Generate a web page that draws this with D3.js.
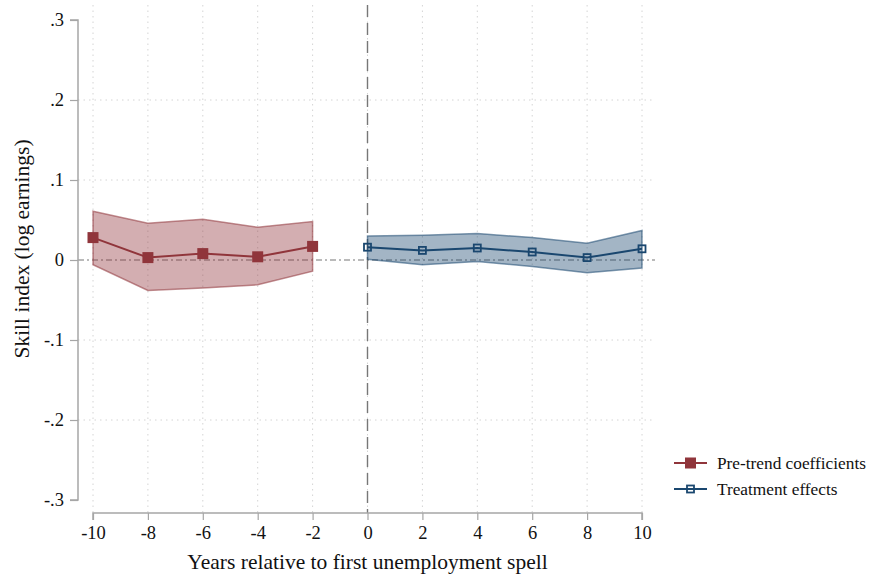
<!DOCTYPE html>
<html>
<head>
<meta charset="utf-8">
<script src="https://cdn.jsdelivr.net/npm/d3@7/dist/d3.min.js"></script>
<style>
  html, body { margin: 0; padding: 0; background: #fff; }
  svg { display: block; }
  svg text { font-family: "Liberation Serif", "Times New Roman", serif; }
</style>
</head>
<body>
<svg id="chart" width="870" height="579"></svg>
<script>
// Event-study estimates: skill index (log earnings) by year relative to first unemployment spell
const preYears   = [-10, -8, -6, -4, -2];
const preCoef    = [0.028, 0.003, 0.008, 0.004, 0.017];
const preUpper   = [0.061, 0.046, 0.051, 0.041, 0.048];
const preLower   = [-0.006, -0.038, -0.035, -0.031, -0.014];

const postYears  = [0, 2, 4, 6, 8, 10];
const postCoef   = [0.016, 0.012, 0.015, 0.010, 0.003, 0.014];
const postUpper  = [0.030, 0.031, 0.033, 0.028, 0.021, 0.037];
const postLower  = [0.001, -0.006, -0.002, -0.008, -0.016, -0.010];

const xTicks = [-10, -8, -6, -4, -2, 0, 2, 4, 6, 8, 10];
const xTickLabels = ["-10", "-8", "-6", "-4", "-2", "0", "2", "4", "6", "8", "10"];
const yTicks = [0.3, 0.2, 0.1, 0, -0.1, -0.2, -0.3];
const yTickLabels = [".3", ".2", ".1", "0", "-.1", "-.2", "-.3"];
const legendLabels = ["Pre-trend coefficients", "Treatment effects"];

const maroon = "#90353b", navy = "#1a476f";
const axisGrey = "#a6a6a6";

const svg = d3.select("#chart");
const plot = { left: 78, right: 655, top: 5, bottom: 513 };

const x = d3.scaleLinear().domain([-10, 10]).range([93, 642]);
const y = d3.scaleLinear().domain([-0.3, 0.3]).range([500, 20]);

// grid
const grid = svg.append("g");
grid.selectAll("line.v").data(xTicks).join("line")
  .attr("x1", d => x(d)).attr("x2", d => x(d))
  .attr("y1", plot.top).attr("y2", plot.bottom)
  .attr("stroke", "#d4d4d4").attr("stroke-width", 1)
  .attr("stroke-dasharray", "1.5,4");
grid.selectAll("line.h").data(yTicks.filter(d => d !== 0 && Math.abs(d) < 0.3)).join("line")
  .attr("x1", plot.left).attr("x2", plot.right)
  .attr("y1", d => y(d)).attr("y2", d => y(d))
  .attr("stroke", "#d4d4d4").attr("stroke-width", 1)
  .attr("stroke-dasharray", "1.5,4");

// reference lines
svg.append("line")
  .attr("x1", plot.left).attr("x2", plot.right)
  .attr("y1", y(0)).attr("y2", y(0))
  .attr("stroke", "#777").attr("stroke-width", 1.2)
  .attr("stroke-dasharray", "6,3,2,3");
svg.append("line")
  .attr("x1", x(0)).attr("x2", x(0))
  .attr("y1", plot.top).attr("y2", plot.bottom)
  .attr("stroke", "#777").attr("stroke-width", 1.4)
  .attr("stroke-dasharray", "12,6");

// confidence bands
function band(years, lo, hi, color) {
  const pts = years.map((d, i) => ({ x: d, lo: lo[i], hi: hi[i] }));
  const area = d3.area().x(d => x(d.x)).y0(d => y(d.lo)).y1(d => y(d.hi));
  svg.append("path").datum(pts)
    .attr("d", area)
    .attr("fill", color).attr("fill-opacity", 0.4)
    .attr("stroke", color).attr("stroke-opacity", 0.55).attr("stroke-width", 1.5)
    .attr("stroke-linejoin", "miter");
}
band(preYears, preLower, preUpper, maroon);
band(postYears, postLower, postUpper, navy);

// estimate lines and markers
const line = d3.line().x(d => x(d[0])).y(d => y(d[1]));
svg.append("path").datum(preYears.map((d, i) => [d, preCoef[i]]))
  .attr("d", line).attr("fill", "none").attr("stroke", maroon).attr("stroke-width", 2);
svg.append("path").datum(postYears.map((d, i) => [d, postCoef[i]]))
  .attr("d", line).attr("fill", "none").attr("stroke", navy).attr("stroke-width", 2);

const sq = 11, sq2 = 7;
svg.append("g").selectAll("rect").data(preYears.map((d, i) => [d, preCoef[i]])).join("rect")
  .attr("x", d => x(d[0]) - sq / 2).attr("y", d => y(d[1]) - sq / 2)
  .attr("width", sq).attr("height", sq).attr("fill", maroon);
svg.append("g").selectAll("rect").data(postYears.map((d, i) => [d, postCoef[i]])).join("rect")
  .attr("x", d => x(d[0]) - sq2 / 2).attr("y", d => y(d[1]) - sq2 / 2)
  .attr("width", sq2).attr("height", sq2)
  .attr("fill", "none").attr("stroke", navy).attr("stroke-width", 1.8);

// axes
const yAxis = d3.axisLeft(y).tickValues(yTicks).tickSize(8).tickPadding(6)
  .tickFormat((d, i) => yTickLabels[i]);
const gy = svg.append("g").attr("transform", `translate(${plot.left},0)`).call(yAxis);
const xAxis = d3.axisBottom(x).tickValues(xTicks).tickSize(7).tickPadding(6)
  .tickFormat((d, i) => xTickLabels[i]);
const gx = svg.append("g").attr("transform", `translate(0,${plot.bottom})`).call(xAxis);
[gx, gy].forEach(g => {
  g.attr("font-family", null).attr("font-size", null);
  g.select(".domain").attr("stroke", axisGrey).attr("stroke-width", 1.5);
  g.selectAll(".tick line").attr("stroke", axisGrey).attr("stroke-width", 1.2);
  g.selectAll(".tick text").attr("fill", "#111").style("font-size", "18.5px");
});
gx.select(".domain").attr("d", `M${x(-10)},7V0H${x(10)}V7`);
gy.select(".domain").attr("d", `M-8,${y(0.3)}H0V${y(-0.3)}H-8`);

// axis titles
svg.append("text")
  .attr("x", (x(-10) + x(10)) / 2).attr("y", 569)
  .attr("text-anchor", "middle").attr("fill", "#111")
  .style("font-size", "21.5px")
  .text("Years relative to first unemployment spell");
svg.append("text")
  .attr("transform", `translate(29,249) rotate(-90)`)
  .attr("text-anchor", "middle").attr("fill", "#111")
  .style("font-size", "21.5px")
  .text("Skill index (log earnings)");

// legend
const lg = svg.append("g").attr("transform", "translate(674,463)");
[[maroon, true], [navy, false]].forEach(([c, filled], i) => {
  const g = lg.append("g").attr("transform", `translate(0,${i * 26})`);
  g.append("line").attr("x1", 0).attr("x2", 33).attr("y1", 0).attr("y2", 0)
    .attr("stroke", c).attr("stroke-width", 2);
  if (filled) {
    g.append("rect").attr("x", 16.5 - sq / 2).attr("y", -sq / 2).attr("width", sq).attr("height", sq).attr("fill", c);
  } else {
    g.append("rect").attr("x", 16.5 - sq2 / 2).attr("y", -sq2 / 2).attr("width", sq2).attr("height", sq2)
      .attr("fill", "none").attr("stroke", c).attr("stroke-width", 1.8);
  }
  g.append("text").attr("x", 43).attr("y", 6).attr("fill", "#111")
    .style("font-size", "17.3px").text(legendLabels[i]);
});
</script>
</body>
</html>
